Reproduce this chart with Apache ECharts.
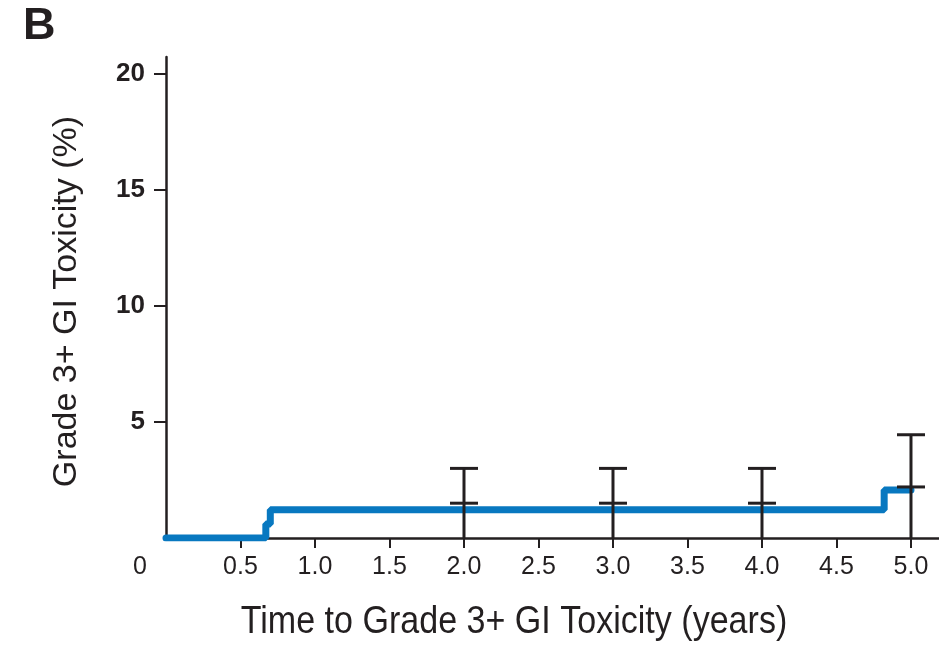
<!DOCTYPE html>
<html>
<head>
<meta charset="utf-8">
<script src="https://cdn.jsdelivr.net/npm/echarts@6/dist/echarts.min.js"></script>
<style>
  html, body { margin: 0; padding: 0; background: #fff; }
  #chart { width: 939px; height: 649px; }
</style>
</head>
<body>
<div id="chart"></div>
<script>
// Cumulative incidence of grade 3+ GI toxicity (step curve)
const stepTimes  = [0, 0.67, 0.70, 4.82, 5.0];
const stepValues = [0, 0.6, 1.22, 2.07, 2.07];

// Point estimates with 95% confidence intervals at yearly landmarks
const ciTimes = [2.0, 3.0, 4.0, 5.0];
const ciMid   = [1.5, 1.5, 1.5, 2.2];
const ciLower = [0, 0, 0, 0];
const ciUpper = [3.0, 3.0, 3.0, 4.45];

// Axis ticks
const xTicks = [0.5, 1.0, 1.5, 2.0, 2.5, 3.0, 3.5, 4.0, 4.5, 5.0];
const yTicks = [5, 10, 15, 20];

const ink = '#231f20';
const blue = '#0878c0';
const sans = '"Liberation Sans", Arial, Helvetica, sans-serif';

const chart = echarts.init(document.getElementById('chart'), null, { renderer: 'canvas' });

const curve = stepTimes.map((t, i) => [t, stepValues[i]]);
const ci = ciTimes.map((t, i) => [t, ciLower[i], ciMid[i], ciUpper[i]]);

chart.setOption({
  animation: false,
  backgroundColor: '#fff',
  grid: { left: 166, top: 57, right: 0, bottom: 111, containLabel: false },
  xAxis: {
    type: 'value',
    min: 0,
    max: 5.188,
    splitLine: { show: false },
    axisLine: { show: true, lineStyle: { color: ink, width: 2.5 } },
    axisTick: { show: true, length: 10, customValues: xTicks, lineStyle: { color: ink, width: 2 } },
    axisLabel: {
      customValues: xTicks,
      margin: 17,
      color: ink,
      fontSize: 25,
      fontFamily: sans,
      formatter: v => v.toFixed(1)
    }
  },
  yAxis: {
    type: 'value',
    min: 0,
    max: 20.73,
    splitLine: { show: false },
    axisLine: { show: true, lineStyle: { color: ink, width: 2.5 } },
    axisTick: { show: true, length: 12, customValues: yTicks, lineStyle: { color: ink, width: 2 } },
    axisLabel: {
      customValues: yTicks,
      margin: 21,
      color: ink,
      fontSize: 26,
      fontWeight: 'bold',
      fontFamily: sans
    },
    name: 'Grade 3+ GI Toxicity (%)',
    nameLocation: 'middle',
    nameGap: 82,
    nameRotate: 90,
    nameTextStyle: { color: ink, fontSize: 34, fontFamily: sans, padding: [0, 0, 0, -8] }
  },
  graphic: [
    {
      type: 'text', left: 23, top: 4,
      style: { text: 'B', fill: ink, font: 'bold 45px ' + sans }
    },
    {
      type: 'text', x: 140, y: 567,
      style: { text: '0', fill: ink, font: '25px ' + sans, textAlign: 'center', textVerticalAlign: 'middle' }
    },
    {
      // condensed x-axis title
      type: 'group', x: 514, y: 622, scaleX: 0.873,
      children: [{
        type: 'text', x: 0, y: 0,
        style: {
          text: 'Time to Grade 3+ GI Toxicity (years)',
          fill: ink, font: '39px ' + sans,
          textAlign: 'center', textVerticalAlign: 'middle'
        }
      }]
    }
  ],
  series: [
    {
      type: 'line',
      data: curve,
      step: 'end',
      symbol: 'none',
      lineStyle: { color: blue, width: 7, cap: 'round' },
      z: 2
    },
    {
      type: 'custom',
      data: ci,
      z: 3,
      renderItem: function (params, api) {
        const x = api.coord([api.value(0), 0])[0];
        const yLo = api.coord([0, api.value(1)])[1];
        const yMid = api.coord([0, api.value(2)])[1];
        const yHi = api.coord([0, api.value(3)])[1];
        const half = 14;
        const st = { stroke: ink, lineWidth: 3 };
        return {
          type: 'group',
          children: [
            { type: 'line', shape: { x1: x, y1: yLo, x2: x, y2: yHi }, style: st },
            { type: 'line', shape: { x1: x - half, y1: yHi, x2: x + half, y2: yHi }, style: st },
            { type: 'line', shape: { x1: x - half, y1: yMid, x2: x + half, y2: yMid }, style: st }
          ]
        };
      }
    }
  ]
});
</script>
</body>
</html>
